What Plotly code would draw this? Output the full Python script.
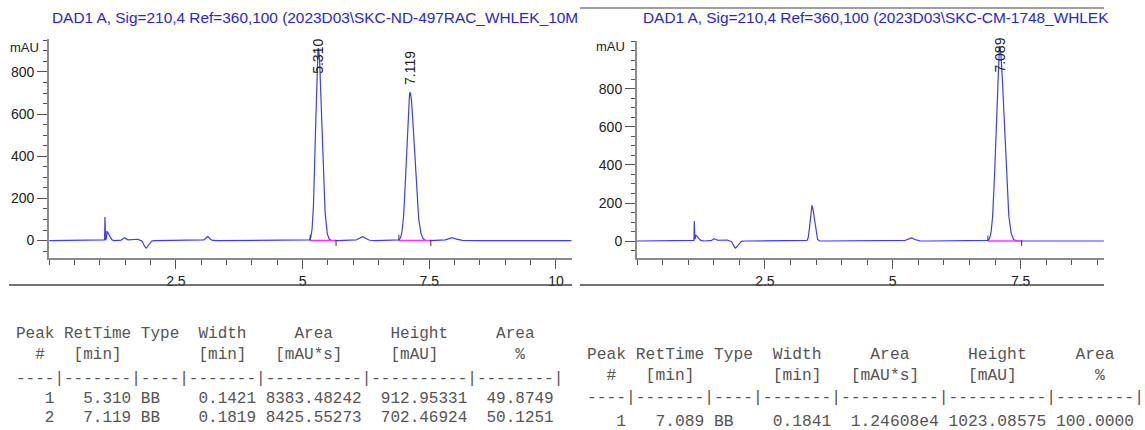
import numpy as np
import plotly.graph_objects as go

W, H = 1145, 430

# ---------------- run A : racemate ----------------
title_a = "DAD1 A, Sig=210,4 Ref=360,100 (2023D03\\SKC-ND-497RAC_WHLEK_10M"
peak_no_a = [1, 2]
rt_a = [5.310, 7.119]
type_a = ["BB", "BB"]
width_a = [0.1421, 0.1819]
area_a = ["8383.48242", "8425.55273"]
height_a = [912.95331, 702.46924]
pct_a = ["49.8749", "50.1251"]
base_start_a = [5.15, 6.90]
base_end_a = [5.66, 7.53]
# small solvent / impurity features: time, height, left sigma, right sigma
minor_rt_a = [1.100, 1.140, 1.470, 1.690, 1.905, 3.120, 6.170, 7.930]
minor_h_a = [112, 42, 14, 8, -36, 20, 19, 14]
minor_sl_a = [0.003, 0.008, 0.025, 0.10, 0.035, 0.035, 0.06, 0.07]
minor_sr_a = [0.006, 0.045, 0.030, 0.08, 0.050, 0.040, 0.07, 0.09]
xmax_a = 10.31
yrange_a = [-84, 955]

# ---------------- run B : single enantiomer ----------------
title_b = "DAD1 A, Sig=210,4 Ref=360,100 (2023D03\\SKC-CM-1748_WHLEK"
peak_no_b = [1]
rt_b = [7.089]
type_b = ["BB"]
width_b = [0.1841]
area_b = ["1.24608e4"]
height_b = [1023.08575]
pct_b = ["100.0000"]
base_start_b = [6.86]
base_end_b = [7.52]
minor_rt_b = [1.120, 1.150, 1.500, 1.700, 1.920, 3.420, 5.350]
minor_h_b = [105, 30, 12, 7, -38, 186, 17]
minor_sl_b = [0.003, 0.008, 0.025, 0.10, 0.035, 0.034, 0.06]
minor_sr_b = [0.006, 0.045, 0.030, 0.08, 0.050, 0.045, 0.07]
xmax_b = 9.13
yrange_b = [-91, 1054]

hdr1 = "Peak RetTime Type  Width     Area      Height     Area  "
hdr2 = "  #   [min]        [min]   [mAU*s]     [mAU]        %   "
sep = "----|-------|----|-------|----------|----------|--------|"

BLUE = "#3c3cff"
TXT = "#222222"
SANS = "Arial, Liberation Sans, sans-serif"
MONO = "Liberation Mono, Courier New, monospace"


def shape(t, rt, h, sl, sr):
    s = np.where(t < rt, sl, sr)
    return h * np.exp(-0.5 * ((t - rt) / s) ** 2)


def signal(t, rts, hs, ws, mrt, mh, msl, msr):
    y = np.zeros_like(t)
    for rt, h, w in zip(rts, hs, ws):
        s = w / 1.1774
        y += shape(t, rt, h, 0.43 * s, 0.57 * s)
    for rt, h, sl, sr in zip(mrt, mh, msl, msr):
        y += shape(t, rt, h, sl, sr)
    return y


def px(x):
    return x / W


def py(y):
    return 1 - y / H


fig = go.Figure()

panels = [
    dict(xa="x", ya="y", xmax=xmax_a, yr=yrange_a, rts=rt_a, hs=height_a, ws=width_a,
         mrt=minor_rt_a, mh=minor_h_a, msl=minor_sl_a, msr=minor_sr_a,
         bs=base_start_a, be=base_end_a),
    dict(xa="x2", ya="y2", xmax=xmax_b, yr=yrange_b, rts=rt_b, hs=height_b, ws=width_b,
         mrt=minor_rt_b, mh=minor_h_b, msl=minor_sl_b, msr=minor_sr_b,
         bs=base_start_b, be=base_end_b),
]

for p in panels:
    t = np.arange(0, p["xmax"], 0.002)
    y = signal(t, p["rts"], p["hs"], p["ws"], p["mrt"], p["mh"], p["msl"], p["msr"])
    fig.add_trace(go.Scatter(x=t, y=y, mode="lines", xaxis=p["xa"], yaxis=p["ya"],
                             line=dict(color=BLUE, width=1.2), hoverinfo="skip"))
    # integration baselines
    for s0, s1 in zip(p["bs"], p["be"]):
        fig.add_trace(go.Scatter(x=[s0, s1], y=[0, 0], mode="lines", xaxis=p["xa"],
                                 yaxis=p["ya"], line=dict(color="#ff33ff", width=1.5),
                                 hoverinfo="skip"))
        fig.add_trace(go.Scatter(x=[s0, s0, None, s1, s1], y=[0, 28, None, 4, -26],
                                 mode="lines", xaxis=p["xa"], yaxis=p["ya"],
                                 line=dict(color="#333333", width=1), hoverinfo="skip"))

axis_common = dict(
    showline=True, linecolor="#8a8a8a", linewidth=2, showgrid=False, zeroline=False,
    ticks="outside", tickcolor="#555555", tickwidth=1,
    tickfont=dict(family=SANS, size=14, color=TXT),
)

fig.update_layout(
    width=W, height=H, margin=dict(l=0, r=0, t=0, b=0),
    paper_bgcolor="white", plot_bgcolor="white", showlegend=False,
    xaxis=dict(domain=[px(49.2), px(571.7)], range=[0, xmax_a], anchor="y",
               tickvals=[2.5, 5, 7.5, 10], ticktext=["2.5", "5", "7.5", "10"], ticklen=9,
               minor=dict(dtick=0.5, tick0=0, ticklen=5, ticks="outside",
                          tickcolor="#555555"),
               **axis_common),
    yaxis=dict(domain=[py(258.3), py(39.3)], range=yrange_a, anchor="x",
               tickvals=[0, 200, 400, 600, 800], ticklen=10,
               minor=dict(dtick=50, tick0=0, ticklen=4, ticks="outside",
                          tickcolor="#555555"),
               **axis_common),
    xaxis2=dict(domain=[px(637), px(1104)], range=[0, xmax_b], anchor="y2",
                tickvals=[2.5, 5, 7.5], ticktext=["2.5", "5", "7.5"], ticklen=9,
                minor=dict(dtick=0.5, tick0=0, ticklen=5, ticks="outside",
                           tickcolor="#555555"),
                **axis_common),
    yaxis2=dict(domain=[py(258.3), py(40.7)], range=yrange_b, anchor="x2",
                tickvals=[0, 200, 400, 600, 800], ticklen=10,
                minor=dict(dtick=50, tick0=0, ticklen=4, ticks="outside",
                           tickcolor="#555555"),
                **axis_common),
)

ann = []


def label(text, x, y, size=14, color=TXT, family=SANS, xanchor="left", **kw):
    ann.append(dict(text=text, x=x, y=y, xref="paper", yref="paper", showarrow=False,
                    xanchor=xanchor, yanchor="middle",
                    font=dict(family=family, size=size, color=color), **kw))


# chart titles and unit labels
label(title_a, px(50), py(17), size=15.4, color="#2626e0")
label(title_b, px(641), py(17), size=15.4, color="#2626e0")
label("mAU", px(8), py(47), size=13)
label("mAU", px(594), py(46), size=13)

# retention-time labels on the peaks
for rt, yc, xa in [(rt_a[0], 56.5, "x"), (rt_a[1], 68, "x"), (rt_b[0], 55, "x2")]:
    ann.append(dict(text=f"{rt:.3f}", x=rt, xref=xa, y=py(yc), yref="paper",
                    showarrow=False, textangle=-90, xanchor="center", yanchor="middle",
                    font=dict(family=SANS, size=14, color=TXT)))


def nb(s):
    return s.replace(" ", "\u00a0")


def table(x0, ys, size, nos, rts, types, widths, areas, heights, pcts):
    lines = [hdr1.rstrip(), hdr2.rstrip(), sep]
    for n, rt, ty, w, a, h, pc in zip(nos, rts, types, widths, areas, heights, pcts):
        lines.append(f"{n:>4} {rt:>7.3f} {ty:<4} {w:>7.4f} {a:>10} {h:>10.5f} {pc:>8}")
    for line, yy in zip(lines, ys):
        label(nb(line), px(x0), py(yy), size=size, color="#555555", family=MONO)


table(14, [334, 355, 379, 399, 418], 16, peak_no_a, rt_a, type_a, width_a, area_a,
      height_a, pct_a)
table(585, [354, 375, 397, 421], 16.3, peak_no_b, rt_b, type_b, width_b, area_b,
      height_b, pct_b)

fig.update_layout(annotations=ann)

# frame lines around the report panels
fig.update_layout(shapes=[
    dict(type="line", xref="paper", yref="paper", x0=px(9), x1=px(572), y0=py(285),
         y1=py(285), line=dict(color="#444444", width=1.5)),
    dict(type="line", xref="paper", yref="paper", x0=px(580), x1=px(1104), y0=py(285),
         y1=py(285), line=dict(color="#444444", width=1.5)),
    dict(type="line", xref="paper", yref="paper", x0=px(580), x1=px(1104), y0=py(8),
         y1=py(8), line=dict(color="#a0a0a0", width=2)),
])

fig.write_html("out.html")
